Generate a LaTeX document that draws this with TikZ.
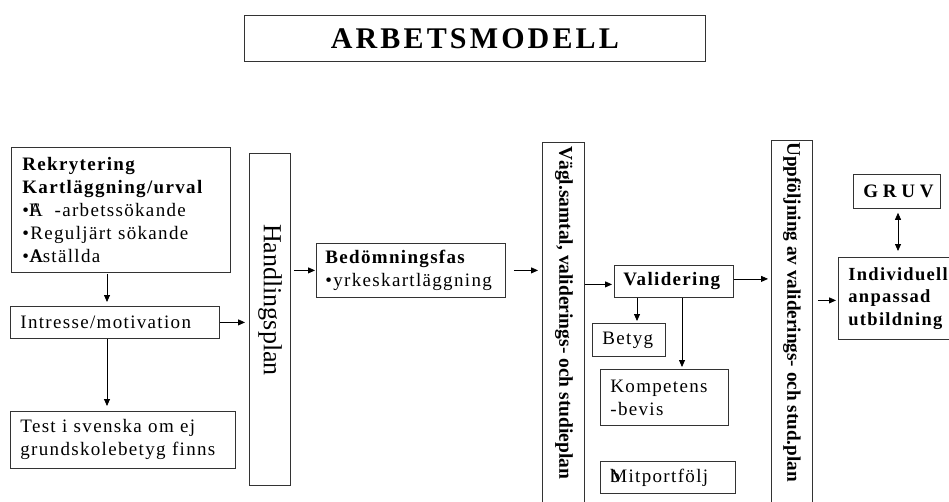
\documentclass[tikz,border=0pt]{standalone}
\usepackage{fontspec}
\setmainfont{Liberation Serif}
\newfontfamily\bodyfont[LetterSpace=7]{Liberation Serif}
\newfontfamily\titlefont[LetterSpace=10.5]{Liberation Serif}
\newfontfamily\gruvfont[LetterSpace=25]{Liberation Serif}
\newfontfamily\midfont[LetterSpace=7]{Liberation Serif}
\usetikzlibrary{arrows.meta}
\begin{document}
\begin{tikzpicture}[x=1pt,y=-1pt,
  bx/.style={draw=black!80, line width=0.8pt, anchor=north west, inner xsep=10pt, inner ysep=0pt,
    align=left, font=\bodyfont\fontsize{19}{23}\selectfont},
  tall/.style={draw=black!80, line width=0.8pt, anchor=north west, inner sep=0pt},
  vtext/.style={rotate=-90, anchor=west, inner sep=0pt},
  arr/.style={-{Triangle[length=7pt,width=6pt]}, line width=0.8pt},
  darr/.style={{Triangle[length=7pt,width=6pt]}-{Triangle[length=7pt,width=6pt]}, line width=0.8pt}]
\useasboundingbox (0,0) rectangle (949,501);
\fill[white] (0,0) rectangle (949,501);

% title
\node[draw=black!80, line width=0.8pt, anchor=north west, minimum width=461pt, minimum height=46pt, inner sep=0pt,
  font=\titlefont\bfseries\fontsize{30}{30}\selectfont] (title) at (244,15) {ARBETSMODELL};

% left column
\node[bx, inner xsep=11pt, text width=197pt, minimum height=125pt] (rek) at (11,147)
  {\textbf{Rekrytering}\\\textbf{Kartläggning/urval}\\•\rlap{A}F\hspace{15pt}-arbetssökande\\•Reguljärt~sökande\\•\rlap{A}\kern0.7pt A\kern-0.7pt ställda};
\node[bx, text width=189pt, minimum height=32pt] (intr) at (10,306) {Intresse/motivation};
\node[bx, text width=205pt, minimum height=57pt] (test) at (10,411) {Test~i~svenska~om~ej\\grundskolebetyg~finns};

% Handlingsplan
\node[tall, minimum width=41pt, minimum height=332pt] (hp) at (249,153) {};
\node[vtext, font=\fontsize{26}{26}\selectfont] (hpt) at (270,224) {Handlingsplan};

% Bedomningsfas
\node[bx, inner xsep=9pt, text width=171pt, minimum height=54pt] (bed) at (316,243)
  {\textbf{Bedömningsfas}\\•yrkeskartläggning};

% Vagl.samtal
\node[tall, minimum width=42pt, minimum height=370pt] (vagl) at (542,142) {};
\node[vtext, font=\bfseries\fontsize{19.5}{20}\selectfont] (vaglt) at (564,146) {Vägl.samtal, validerings- och studieplan};

% Validering group
\node[bx, inner xsep=9pt, text width=101pt, minimum height=32pt, font=\midfont\bfseries\fontsize{19}{20}\selectfont] (val) at (614,265) {Validering};
\node[bx, text width=53pt, minimum height=33pt] (bet) at (592,323) {Betyg};
\node[bx, text width=108pt, minimum height=56pt] (komp) at (600,369) {Kompetens\\-bevis};
\node[bx, text width=115pt, minimum height=32pt] (mit) at (600,461) {\rlap{b}Mitportfölj};

% Uppfoljning
\node[tall, minimum width=41pt, minimum height=370pt] (upp) at (771,140) {};
\node[vtext, font=\bfseries\fontsize{19.2}{20}\selectfont] (uppt) at (792,142) {Uppföljning av validerings- och stud.plan};

% right
\node[bx, text width=67pt, minimum height=34pt, font=\gruvfont\bfseries\fontsize{19}{20}\selectfont] (gruv) at (853,174) {GRUV};
\node[bx, text width=110pt, minimum height=82pt, font=\midfont\bfseries\fontsize{18.5}{22.5}\selectfont] (ind) at (838,257)
  {Individuell\\anpassad\\utbildning};

% connectors
\draw[arr, shorten <=1pt, shorten >=4pt] ([xshift=96pt]rek.south west) -- ([xshift=97pt]intr.north west);
\draw[arr, shorten >=5pt] ([xshift=97pt]intr.south west) -- ([xshift=97pt]test.north west);
\draw[arr, shorten >=4pt] (intr.east) -- (intr.east -| hp.west);
\draw[arr, shorten <=3pt, shorten >=1pt] (bed.west -| hp.east) -- (bed.west);
\draw[arr, shorten <=8pt, shorten >=4pt] (bed.east) -- (bed.east -| vagl.west);
\draw[arr, shorten >=2pt] ([yshift=-3pt]val.west -| vagl.east) -- ([yshift=-3pt]val.west);
\draw[arr, shorten >=3pt] ([yshift=2.5pt]val.east) -- ([yshift=2.5pt]val.east -| upp.west);
\draw[arr, shorten <=5pt, shorten >=2pt] ([yshift=-2pt]ind.west -| upp.east) -- ([yshift=-2pt]ind.west);
\draw[darr, shorten <=4pt, shorten >=6pt] ([xshift=45pt]gruv.south west) -- ([xshift=60pt]ind.north west);
\draw[arr, shorten >=2pt] ([xshift=23pt]val.south west) -- ([xshift=45pt]bet.north west);
\draw[arr, shorten >=2pt] ([xshift=68pt]val.south west) -- ([xshift=82pt]komp.north west);
\end{tikzpicture}
\end{document}
